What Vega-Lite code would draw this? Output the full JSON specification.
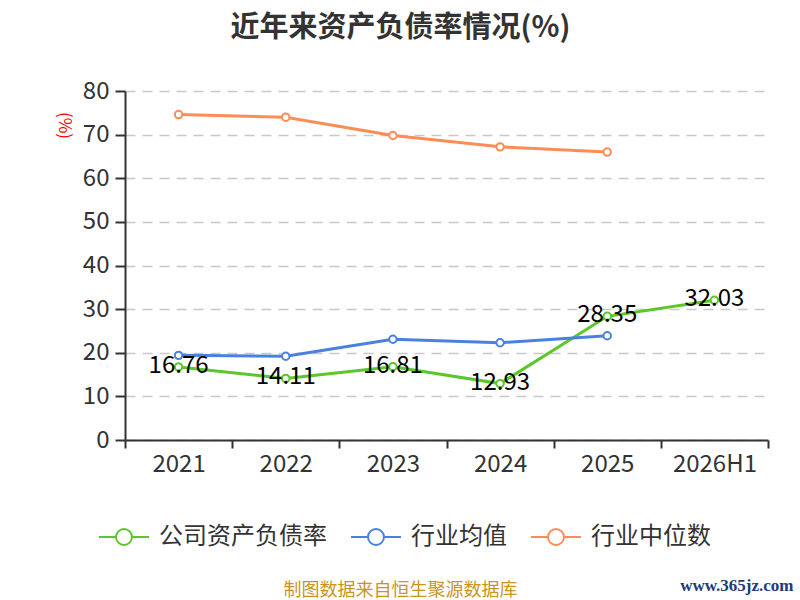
{
  "$schema": "https://vega.github.io/schema/vega-lite/v6.json",
  "autosize": {"type": "none"},
  "width": 643,
  "height": 349,
  "padding": {"left": 125, "top": 91, "right": 32, "bottom": 160},
  "background": "white",
  "config": {
    "font": "Noto Sans CJK SC",
    "view": {"stroke": null}
  },
  "title": {
    "text": "近年来资产负债率情况(%)",
    "fontSize": 29,
    "fontWeight": "bold",
    "color": "#333333",
    "anchor": "middle",
    "frame": "group",
    "dx": -46,
    "offset": 36
  },
  "data": {
    "values": [
      {"year": "2021", "series": "公司资产负债率", "value": 16.76},
      {"year": "2022", "series": "公司资产负债率", "value": 14.11},
      {"year": "2023", "series": "公司资产负债率", "value": 16.81},
      {"year": "2024", "series": "公司资产负债率", "value": 12.93},
      {"year": "2025", "series": "公司资产负债率", "value": 28.35},
      {"year": "2026H1", "series": "公司资产负债率", "value": 32.03},
      {"year": "2021", "series": "行业均值", "value": 19.4},
      {"year": "2022", "series": "行业均值", "value": 19.2},
      {"year": "2023", "series": "行业均值", "value": 23.1},
      {"year": "2024", "series": "行业均值", "value": 22.3},
      {"year": "2025", "series": "行业均值", "value": 23.9},
      {"year": "2021", "series": "行业中位数", "value": 74.6},
      {"year": "2022", "series": "行业中位数", "value": 74.0},
      {"year": "2023", "series": "行业中位数", "value": 69.8},
      {"year": "2024", "series": "行业中位数", "value": 67.2},
      {"year": "2025", "series": "行业中位数", "value": 66.0}
    ]
  },
  "layer": [
    {
      "mark": {
        "type": "line",
        "strokeWidth": 3,
        "point": {"filled": false, "fill": "white", "size": 55, "strokeWidth": 2}
      },
      "encoding": {
        "x": {
          "field": "year",
          "type": "nominal",
          "sort": ["2021", "2022", "2023", "2024", "2025", "2026H1"],
          "scale": {"domain": ["2021", "2022", "2023", "2024", "2025", "2026H1"], "paddingInner": 0, "paddingOuter": 0},
          "axis": {
            "labelAngle": 0,
            "labelFontSize": 24,
            "labelColor": "#333333",
            "labelPadding": 4,
            "tickSize": 8,
            "tickWidth": 2,
            "tickColor": "#333333",
            "tickBand": "extent",
            "domainColor": "#333333",
            "domainWidth": 2,
            "grid": false,
            "title": "制图数据来自恒生聚源数据库",
            "titleFontSize": 18,
            "titleFontWeight": "normal",
            "titleColor": "#c9951f",
            "titleX": 275,
            "titleY": 150,
            "titleAlign": "center",
            "titleBaseline": "middle"
          }
        },
        "y": {
          "field": "value",
          "type": "quantitative",
          "scale": {"domain": [0, 80], "nice": false},
          "axis": {
            "values": [0, 10, 20, 30, 40, 50, 60, 70, 80],
            "labelFontSize": 24,
            "labelColor": "#333333",
            "labelPadding": 6,
            "tickSize": 10,
            "tickWidth": 2,
            "tickColor": "#333333",
            "domainColor": "#333333",
            "domainWidth": 2,
            "grid": true,
            "gridColor": "#c8c8c8",
            "gridWidth": 1.5,
            "gridDash": [10, 7],
            "title": "(%)",
            "titleFontSize": 17,
            "titleFontWeight": "normal",
            "titleColor": "#ff0000",
            "titleAngle": 90,
            "titleX": -62,
            "titleY": 34,
            "titleAlign": "center",
            "titleBaseline": "middle"
          }
        },
        "color": {
          "field": "series",
          "type": "nominal",
          "scale": {
            "domain": ["公司资产负债率", "行业均值", "行业中位数"],
            "range": ["#5bc72a", "#4a80e0", "#ff8c57"]
          },
          "legend": {
            "title": null,
            "orient": "none",
            "direction": "horizontal",
            "legendX": -27,
            "legendY": 420,
            "symbolType": "M-1,0L-0.32,0M0.32,0L1,0M-0.32,0A0.32,0.32,0,1,1,0.32,0A0.32,0.32,0,1,1,-0.32,0",
            "symbolSize": 2500,
            "symbolStrokeWidth": 2,
            "symbolFillColor": "white",
            "labelFontSize": 24,
            "labelLimit": 400,
            "labelColor": "#333333",
            "labelOffset": 9,
            "columnPadding": 20
          }
        }
      }
    },
    {
      "transform": [{"filter": "datum.series === '公司资产负债率'"}],
      "mark": {"type": "text", "fontSize": 24, "color": "#000000", "baseline": "middle", "dy": -1},
      "encoding": {
        "x": {"field": "year", "type": "nominal", "sort": ["2021", "2022", "2023", "2024", "2025", "2026H1"]},
        "y": {
          "field": "value",
          "type": "quantitative",
          "axis": {
            "orient": "right",
            "domain": false,
            "ticks": false,
            "labels": false,
            "grid": false,
            "title": "www.365jz.com",
            "titleAngle": 0,
            "titleFont": "Liberation Serif",
            "titleFontSize": 17,
            "titleFontWeight": "bold",
            "titleColor": "#1a3c7a",
            "titleX": 25,
            "titleY": 494,
            "titleAlign": "right",
            "titleBaseline": "middle"
          }
        },
        "text": {"field": "value", "type": "quantitative", "format": ".2f"}
      }
    }
  ],
  "resolve": {"axis": {"y": "independent"}}
}
